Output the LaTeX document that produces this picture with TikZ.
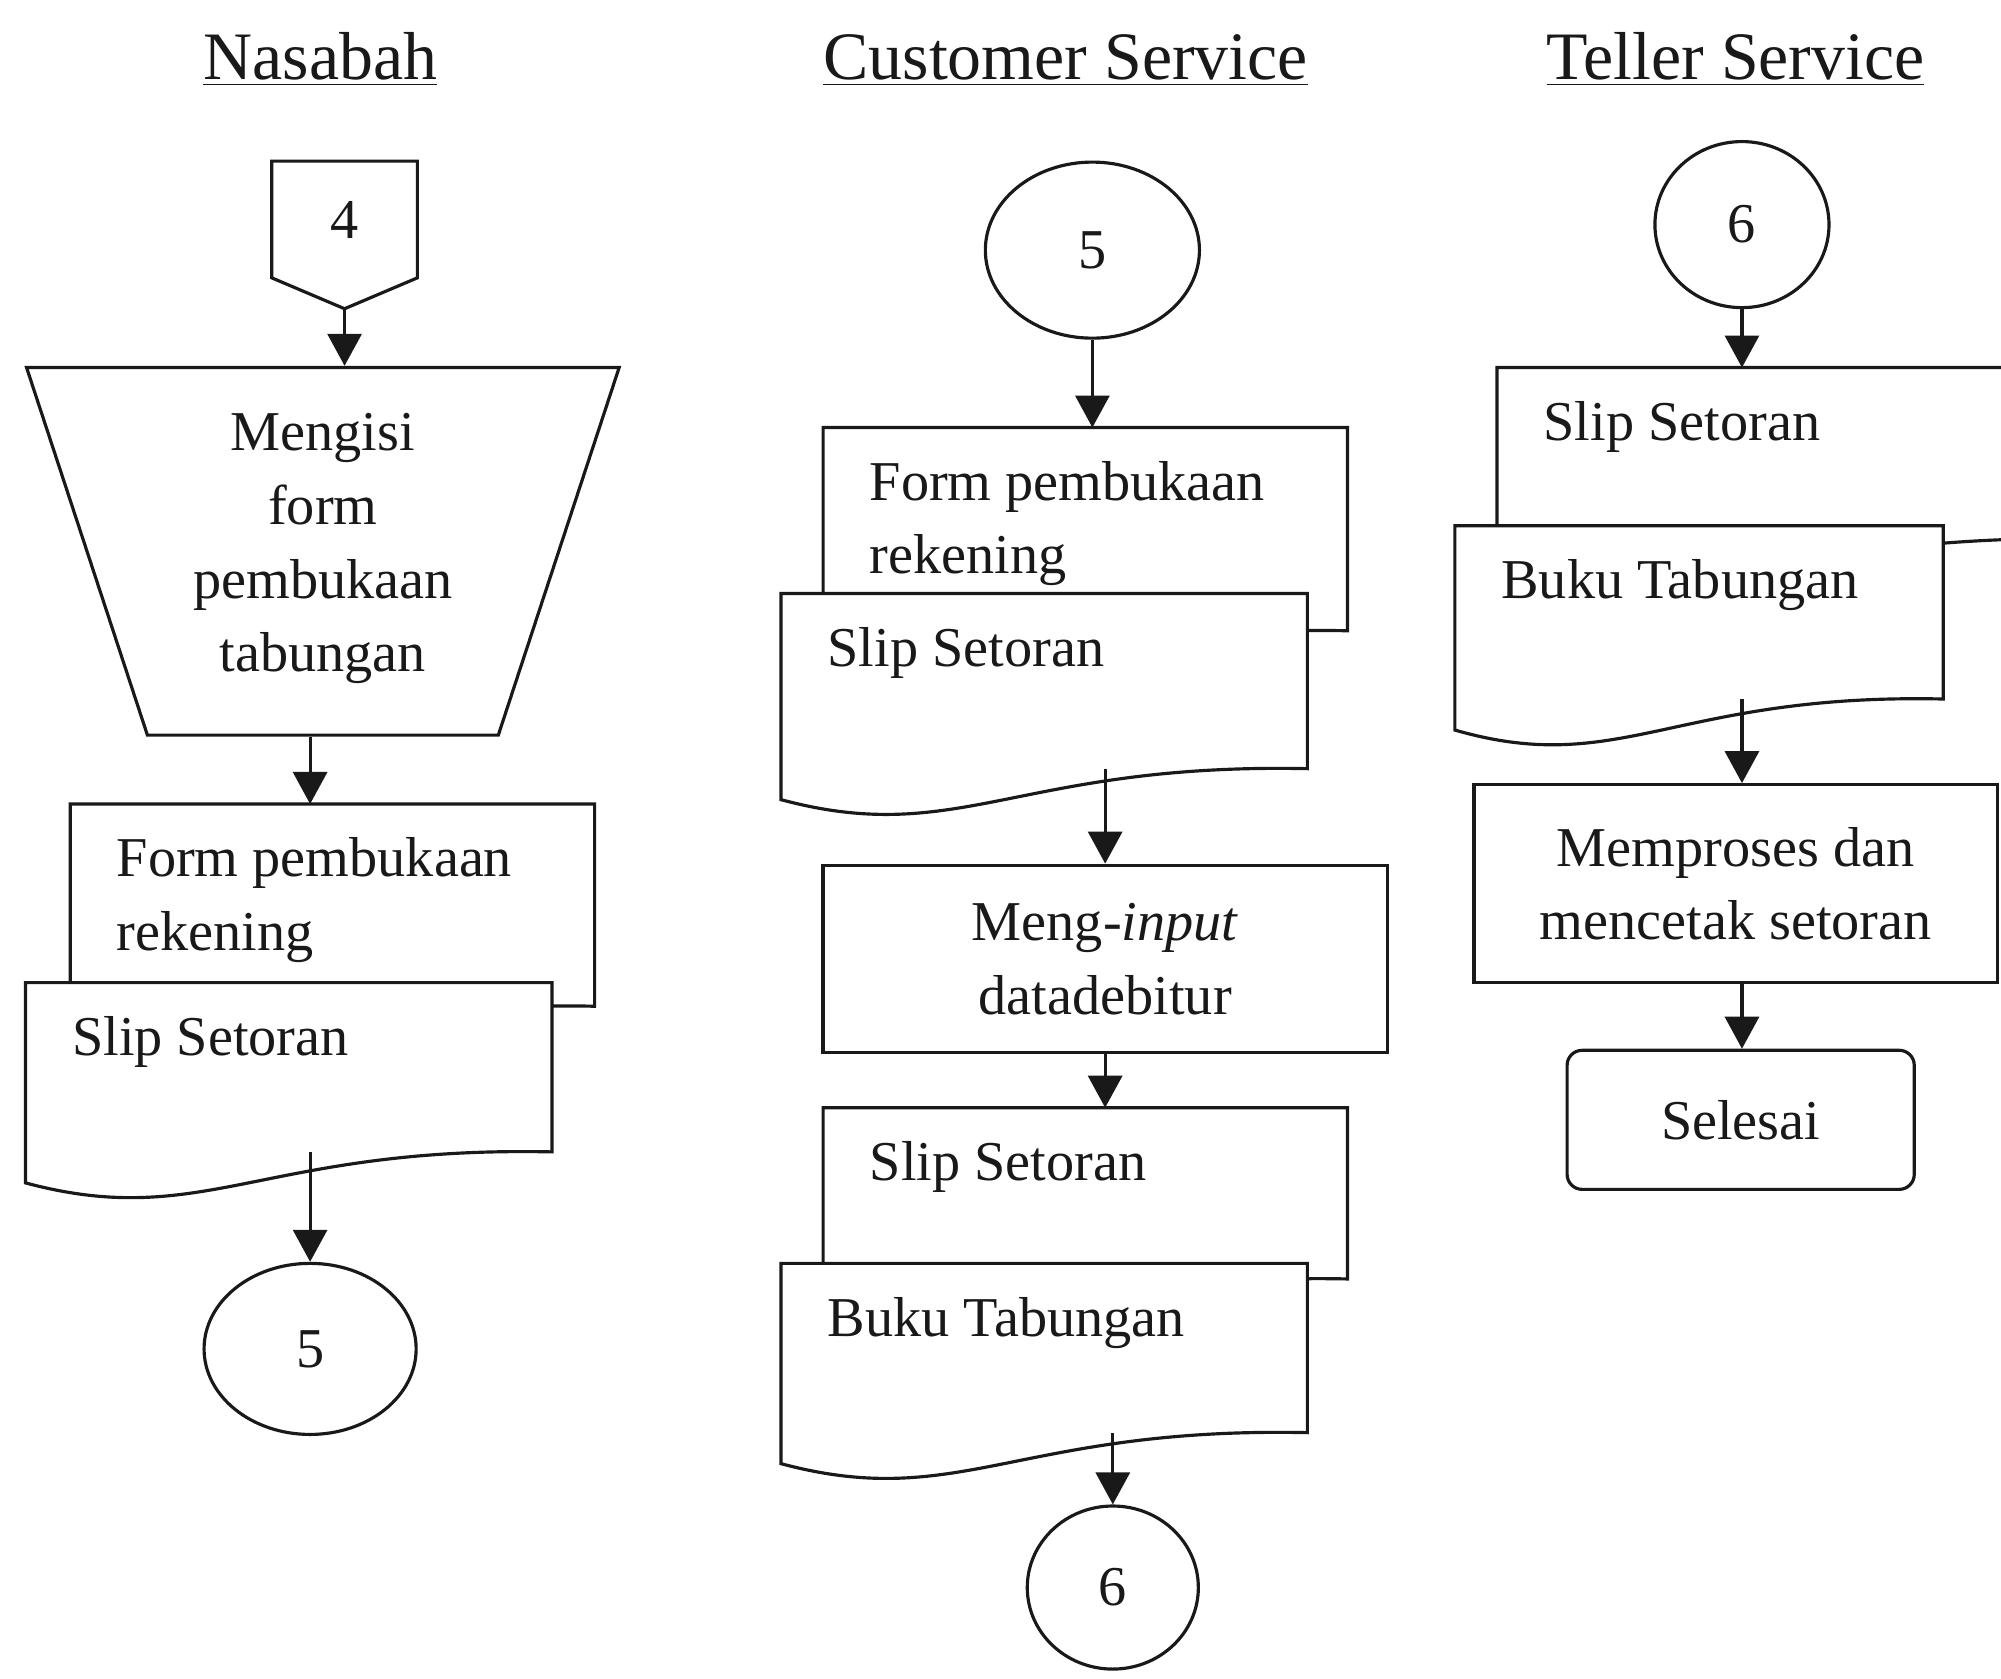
\documentclass[tikz,border=0pt]{standalone}
\usepackage{fontspec}
\setmainfont{Liberation Serif}
\usepackage{tikz}
\usetikzlibrary{arrows.meta,calc,backgrounds,shapes.geometric,shapes.symbols}
\definecolor{ink}{RGB}{25,25,25}
\tikzset{
  doc/.style={rectangle,draw=none,inner sep=0pt,anchor=north west},
  dline/.style={draw=ink,fill=white,line width=0.9pt},
  dtext/.style={anchor=north west,inner sep=0pt,align=left,
    xshift=0.45cm,yshift=-0.32cm},
  fl/.style={-{Triangle[length=3.2mm,width=3.4mm]}},
}
% outline of a document symbol, drawn round an empty node
\newcommand{\docshape}[1]{%
  \filldraw[dline] (#1.north west) -- (#1.north east) -- (#1.south east)
    .. controls ($(#1.south east)!0.55!(#1.south west)+(0,0.06cm)$)
       and ($(#1.south east)!0.66!(#1.south west)+(0,-0.79cm)$)
    .. ($(#1.south west)+(0,-0.31cm)$) -- cycle;}

\begin{document}
\begin{tikzpicture}[x=0.012761cm,y=-0.012761cm,color=ink,line width=0.9pt,
  every node/.style={font=\fontsize{16}{21}\selectfont},
  hd/.style={font=\fontsize{19.3}{23}\selectfont,anchor=base},
  box/.style={draw,rectangle,align=center,inner sep=4pt},
  circ/.style={draw,ellipse,inner sep=1pt}]
  \useasboundingbox (0,0) rectangle (1568,1315);
  \clip (0,0) rectangle (1568,1315);
  % headings
  \node[hd] (tN) at (251,62)  {\underline{Nasabah}};
  \node[hd] (tC) at (835,62)  {\underline{Customer Service}};
  \node[hd] (tT) at (1360,62) {\underline{Teller Service}};
  % left column : nasabah
  \node[draw,signal,signal to=south,signal pointer angle=134,
        minimum width=1.455cm,minimum height=1.276cm] (off4) at (270,172) {4};
  \node[draw,trapezium,shape border rotate=180,trapezium left angle=72,
        trapezium right angle=72,trapezium stretches=true,
        minimum width=5.93cm,minimum height=3.675cm,align=center]
        (isi) at (253,432) {Mengisi\\form\\pembukaan\\tabungan\\[-16pt]};
  \node[doc,minimum width=5.21cm,minimum height=1.99cm,
        label={[dtext]north west:{Form pembukaan\\rekening}}] (formA) at (55,630) {};
  \node[doc,minimum width=5.23cm,minimum height=1.66cm,
        label={[dtext]north west:{Slip Setoran}}] (slipA) at (20,770) {};
  \node[circ,minimum width=2.12cm,minimum height=1.71cm] (conA) at (243,1057) {5};
  % middle column : customer service
  \node[circ,minimum width=2.14cm,minimum height=1.76cm] (conB) at (856,196) {5};
  \node[doc,minimum width=5.21cm,minimum height=2.0cm,
        label={[dtext]north west:{Form pembukaan\\rekening}}] (formB) at (645,335) {};
  \node[doc,minimum width=5.23cm,minimum height=1.72cm,
        label={[dtext]north west:{Slip Setoran}}] (slipB) at (612,465) {};
  \node[box,minimum width=5.64cm,minimum height=1.876cm] (inp) at (866,751.5)
        {Meng-\textit{input}\\datadebitur};
  \node[doc,minimum width=5.21cm,minimum height=1.68cm,
        label={[dtext]north west:{Slip Setoran}}] (slipC) at (645,868) {};
  \node[doc,minimum width=5.23cm,minimum height=1.66cm,
        label={[dtext]north west:{Buku Tabungan}}] (bukuB) at (612,990) {};
  \node[circ,minimum width=1.71cm,minimum height=1.63cm] (conC) at (872,1244) {6};
  % right column : teller service
  \node[circ,minimum width=1.74cm,minimum height=1.66cm] (conD) at (1365,176) {6};
  \node[doc,minimum width=6.0cm,minimum height=1.68cm,
        label={[dtext]north west:{Slip Setoran}}] (slipD) at (1173,288) {};
  \node[doc,minimum width=4.85cm,minimum height=1.70cm,
        label={[dtext]north west:{Buku Tabungan}}] (bukuD) at (1140,412) {};
  \node[box,minimum width=5.23cm,minimum height=1.98cm] (proc) at (1360,692.5)
        {Memproses dan\\mencetak setoran};
  \node[box,rounded corners=0.15cm,minimum width=3.47cm,minimum height=1.39cm]
        (done) at (1364,877.5) {Selesai};
  % document outlines
  \begin{scope}[on background layer]
    \docshape{formA}\docshape{slipA}
    \docshape{formB}\docshape{slipB}
    \docshape{slipC}\docshape{bukuB}
    \docshape{slipD}\docshape{bukuD}
  \end{scope}
  % flow
  \draw[fl] (off4.south) -- (isi.north -| off4.south);
  \draw[fl] (isi.south -| conA) -- (formA.north -| conA);
  \draw[fl] (slipA.south -| conA) -- (conA);
  \draw[fl] (conB) -- (formB.north -| conB);
  \draw[fl] (slipB.south -| inp) -- (inp);
  \draw[fl] (inp) -- (slipC.north -| inp);
  \draw[fl] (bukuB.south -| conC) -- (conC);
  \draw[fl] (conD) -- (slipD.north -| conD);
  \draw[fl] (bukuD.south -| conD) -- (proc.north -| conD);
  \draw[fl] (proc.south -| conD) -- (done.north -| conD);
\end{tikzpicture}
\end{document}
